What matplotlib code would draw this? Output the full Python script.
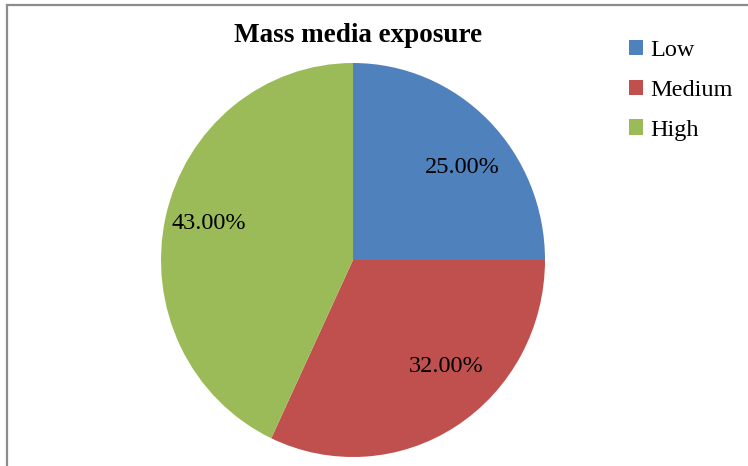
import matplotlib.pyplot as plt
from matplotlib.patches import Rectangle

labels = ["Low", "Medium", "High"]
values = [25.0, 32.0, 43.0]
colors = ["#4F81BD", "#C0504D", "#9BBB59"]
title = "Mass media exposure"

# where Excel put the percentage labels, in pie radius units
label_pos = [(0.568, 0.472), (0.484, -0.543), (-0.75, 0.183)]

W, H = 748, 466
plt.rcParams["font.family"] = ["Liberation Serif", "DejaVu Serif"]

fig = plt.figure(figsize=(W / 100, H / 100), dpi=100)

# chart frame (only top and left edges visible in the original crop)
fig.patches.append(Rectangle((6.5 / W, -0.1), 1.2, 1.1 - 4.5 / H,
                             transform=fig.transFigure, fill=False,
                             edgecolor="#8c8c8c", linewidth=1.6))

# pie area in pixels: centre (353, 260), rx 192, ry 197
cx, cy, rx, ry = 353, 260, 192, 197
ax = fig.add_axes([(cx - rx) / W, (H - cy - ry) / H, 2 * rx / W, 2 * ry / H])
wedges, texts, autotexts = ax.pie(values, colors=colors, startangle=90,
                                  counterclock=False, autopct="%.2f%%",
                                  textprops=dict(fontsize=17.5, color="black"))
for t, pos in zip(autotexts, label_pos):
    t.set_position(pos)
ax.set_aspect("auto")
ax.set_xlim(-1, 1)
ax.set_ylim(-1, 1)

fig.text(358 / W, 1 - 36 / H, title, ha="center", va="center",
         fontsize=19.5, fontweight="bold")

fig.legend(wedges, labels, loc="upper left", bbox_to_anchor=(607 / W, 1 - 18 / H),
           frameon=False, fontsize=17.5, handlelength=0.6, handleheight=0.6,
           handletextpad=0.3, labelspacing=0.76)

fig.savefig("out.png", dpi=100)
